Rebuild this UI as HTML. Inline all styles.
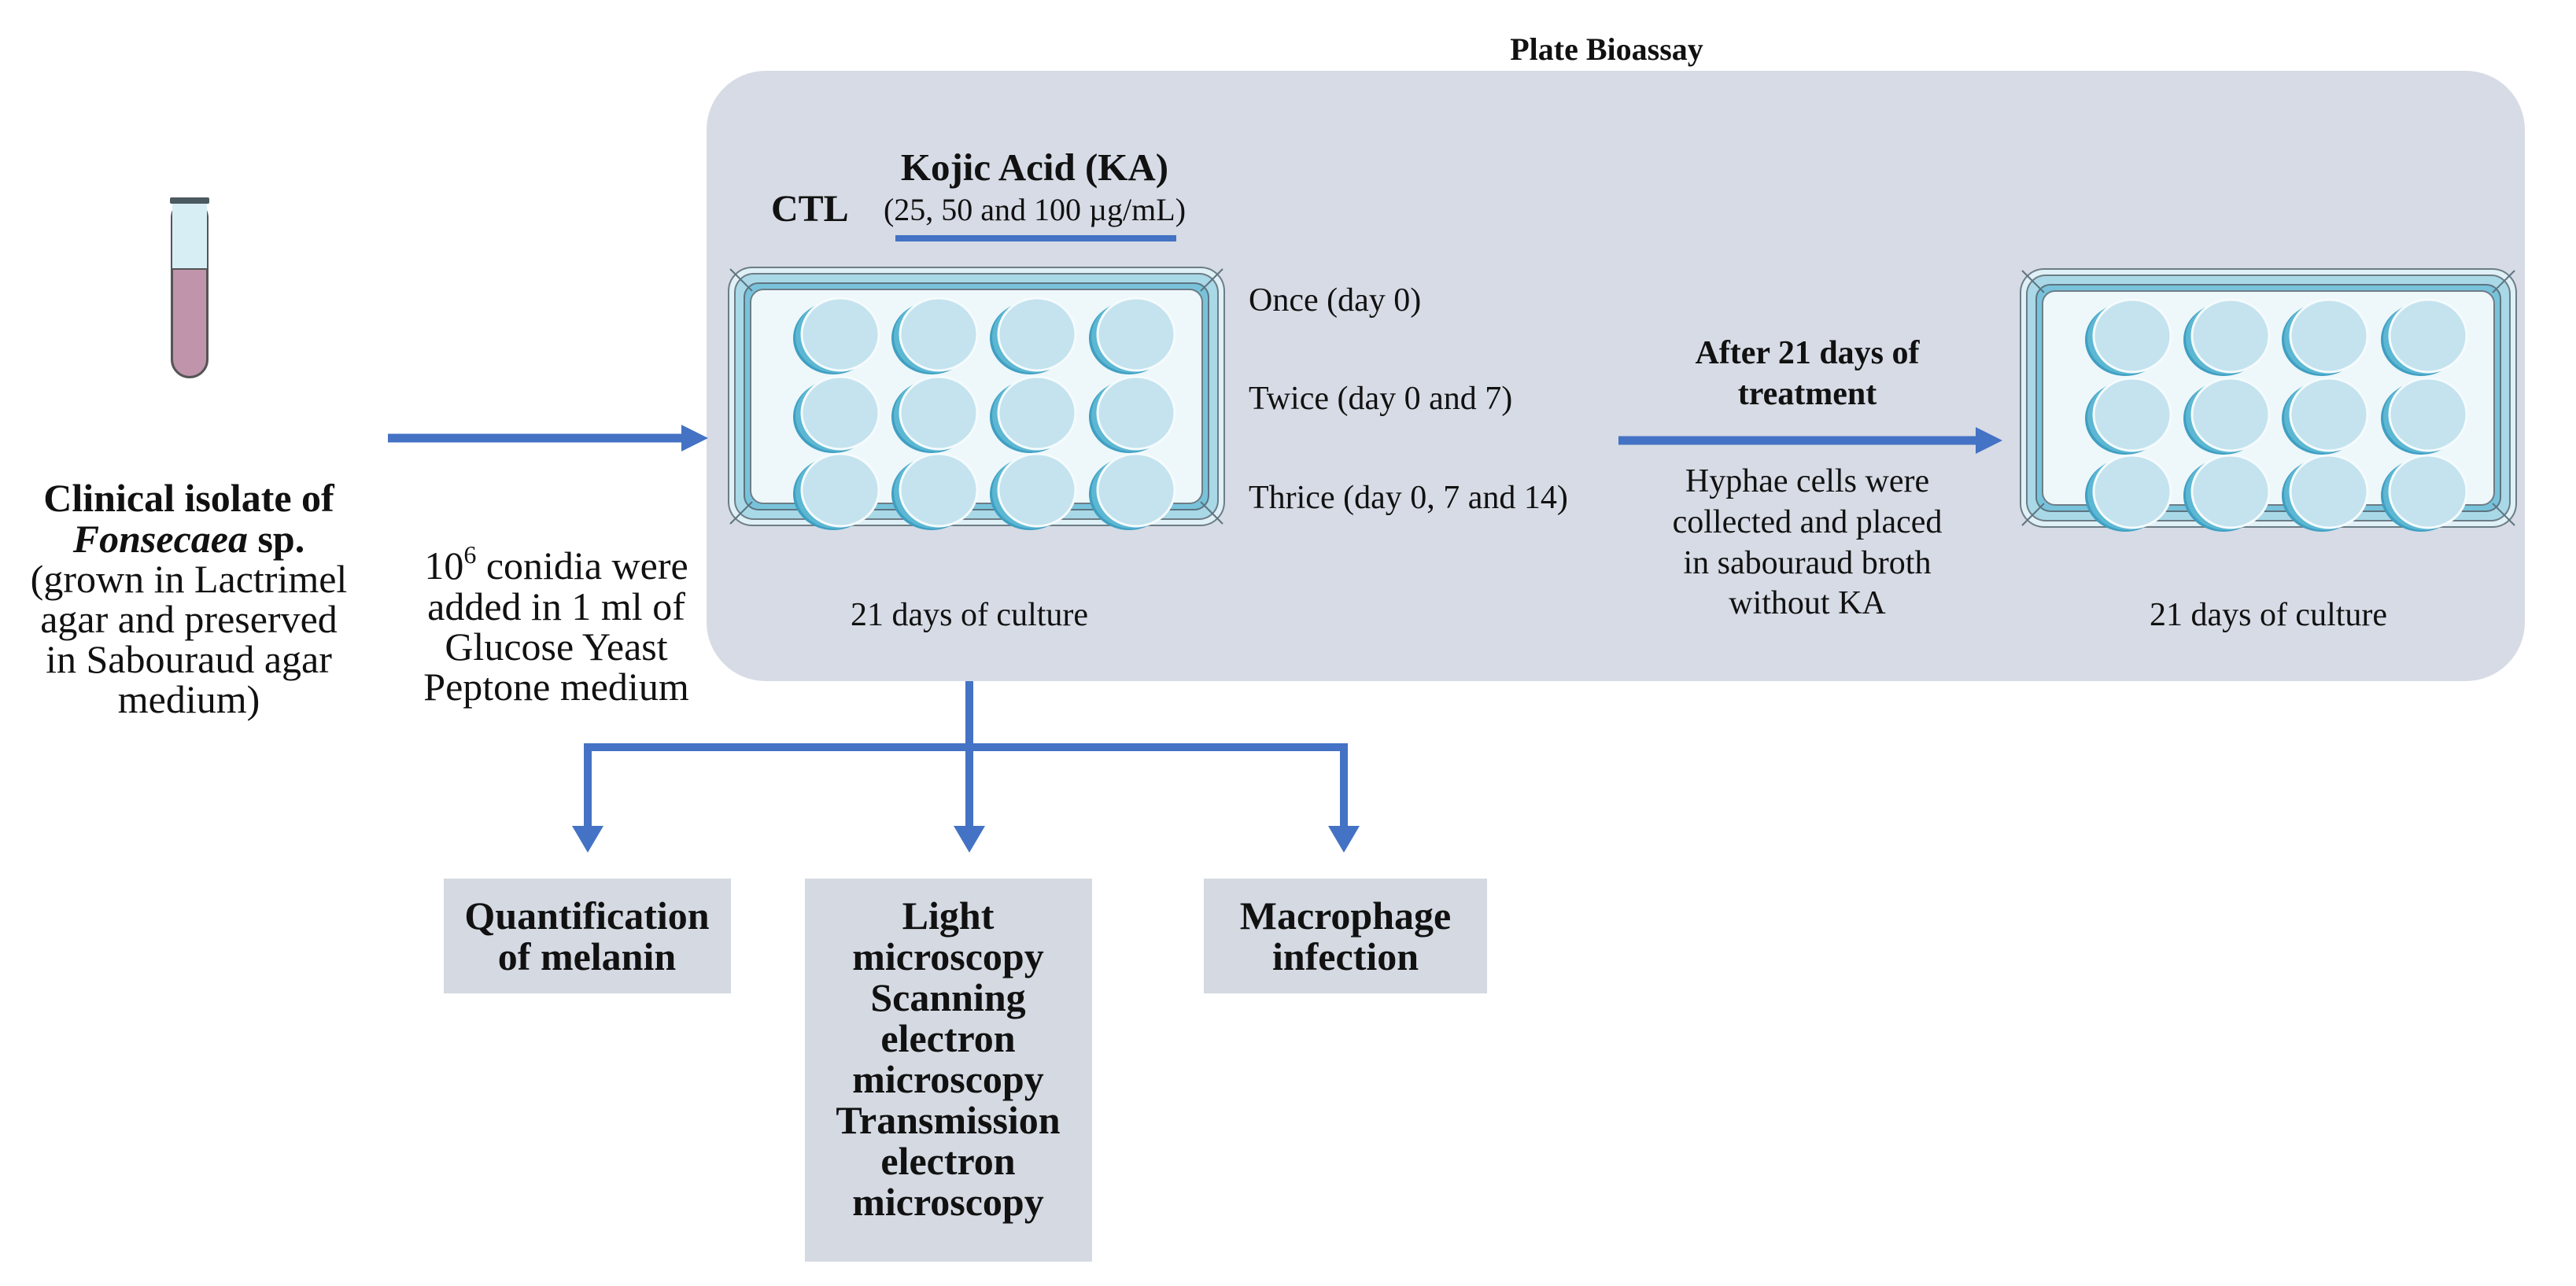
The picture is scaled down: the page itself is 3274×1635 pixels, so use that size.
<!DOCTYPE html>
<html><head><meta charset="utf-8"><style>
html,body{margin:0;padding:0;background:#fff}
svg{display:block}
text{font-family:"Liberation Serif",serif;fill:#111}
.b{font-weight:bold}
</style></head><body>
<svg width="3274" height="1635" viewBox="0 0 3274 1635" xmlns="http://www.w3.org/2000/svg">
<defs>
<g id="well">
<ellipse cx="-5" cy="4" rx="51" ry="46" fill="#3f9fc2"/>
<ellipse cx="-2" cy="2" rx="51" ry="46" fill="#5cb7d3"/>
<ellipse cx="4" cy="-1" rx="49" ry="46" fill="#c4e3ee" stroke="#f5fbfd" stroke-width="3"/>
</g>
<g id="plate">
<rect x="0" y="0" width="630" height="328" rx="30" fill="#dff0f6" stroke="#6d7d86" stroke-width="2"/>
<rect x="8" y="8" width="614" height="312" rx="24" fill="#a9d8e7" stroke="#6d7d86" stroke-width="2"/>
<rect x="20" y="20" width="590" height="288" rx="18" fill="#78c3db" stroke="#5e7480" stroke-width="2"/>
<rect x="28" y="28" width="574" height="272" rx="16" fill="#eef7fa" stroke="#6d7d86" stroke-width="2"/>
<line x1="2" y1="2" x2="30" y2="30" stroke="#5e7480" stroke-width="2"/>
<line x1="628" y1="2" x2="600" y2="30" stroke="#5e7480" stroke-width="2"/>
<line x1="2" y1="326" x2="30" y2="298" stroke="#5e7480" stroke-width="2"/>
<line x1="628" y1="326" x2="600" y2="298" stroke="#5e7480" stroke-width="2"/>
<use href="#well" x="138" y="86"/><use href="#well" x="263" y="86"/><use href="#well" x="388" y="86"/><use href="#well" x="514" y="86"/>
<use href="#well" x="138" y="186"/><use href="#well" x="263" y="186"/><use href="#well" x="388" y="186"/><use href="#well" x="514" y="186"/>
<use href="#well" x="138" y="284"/><use href="#well" x="263" y="284"/><use href="#well" x="388" y="284"/><use href="#well" x="514" y="284"/>
</g>
</defs>

<rect x="898" y="90" width="2311" height="776" rx="75" fill="#d6dbe5"/>
<text x="2042" y="76" class="b" font-size="40" text-anchor="middle">Plate Bioassay</text>

<rect x="218" y="254" width="46" height="226" rx="23" fill="#fff" stroke="#555" stroke-width="2"/>
<rect x="219" y="256" width="44" height="86" fill="#d7eef5"/>
<path d="M219 342 H263 V457 A22 22 0 0 1 219 457 Z" fill="#c094aa" stroke="#555" stroke-width="2"/>
<rect x="216" y="251" width="50" height="8" rx="2" fill="#4b5a60"/>

<g font-size="50" text-anchor="middle">
<text x="240" y="650" class="b">Clinical isolate of</text>
<text x="240" y="702" class="b"><tspan font-style="italic">Fonsecaea</tspan> sp.</text>
<text x="240" y="753">(grown in Lactrimel</text>
<text x="240" y="804">agar and preserved</text>
<text x="240" y="855">in Sabouraud agar</text>
<text x="240" y="906">medium)</text>

<text x="707" y="736">10<tspan font-size="32" dy="-20">6</tspan><tspan dy="20"> conidia were</tspan></text>
<text x="707" y="788">added in 1 ml of</text>
<text x="707" y="839">Glucose Yeast</text>
<text x="707" y="890">Peptone medium</text>
</g>

<line x1="493" y1="557" x2="870" y2="557" stroke="#4472c4" stroke-width="11"/>
<polygon points="866,540 900,557 866,574" fill="#4472c4"/>

<text x="980" y="281" class="b" font-size="48">CTL</text>
<text x="1315" y="229" class="b" font-size="49" text-anchor="middle">Kojic Acid (KA)</text>
<text x="1315" y="280" font-size="40" text-anchor="middle">(25, 50 and 100 µg/mL)</text>
<rect x="1138" y="299" width="357" height="8" fill="#4472c4"/>
<use href="#plate" x="926" y="340"/>
<text x="1232" y="795" font-size="42" text-anchor="middle">21 days of culture</text>

<g font-size="42">
<text x="1587" y="395">Once (day 0)</text>
<text x="1587" y="520">Twice (day 0 and 7)</text>
<text x="1587" y="646">Thrice (day 0, 7 and 14)</text>
</g>

<line x1="2057" y1="560" x2="2515" y2="560" stroke="#4472c4" stroke-width="11"/>
<polygon points="2511,543 2545,560 2511,577" fill="#4472c4"/>
<g font-size="42" text-anchor="middle">
<text x="2297" y="462" class="b">After 21 days of</text>
<text x="2297" y="514" class="b">treatment</text>
<text x="2297" y="625">Hyphae cells were</text>
<text x="2297" y="677">collected and placed</text>
<text x="2297" y="729">in sabouraud broth</text>
<text x="2297" y="780">without KA</text>
</g>

<use href="#plate" x="2568" y="342"/>
<text x="2883" y="795" font-size="42" text-anchor="middle">21 days of culture</text>

<g stroke="#4472c4" stroke-width="10" fill="none">
<line x1="1232" y1="866" x2="1232" y2="1050"/>
<polyline points="747,1060 747,950 1708,950 1708,1060"/>
</g>
<g fill="#4472c4">
<polygon points="727,1050 767,1050 747,1084"/>
<polygon points="1212,1050 1252,1050 1232,1084"/>
<polygon points="1688,1050 1728,1050 1708,1084"/>
</g>

<rect x="564" y="1117" width="365" height="146" fill="#d4d9e2"/>
<rect x="1023" y="1117" width="365" height="487" fill="#d4d9e2"/>
<rect x="1530" y="1117" width="360" height="146" fill="#d4d9e2"/>
<g font-size="50" class="b" text-anchor="middle">
<text x="746" y="1181">Quantification</text>
<text x="746" y="1233">of melanin</text>
<text x="1205" y="1181">Light</text>
<text x="1205" y="1233">microscopy</text>
<text x="1205" y="1285">Scanning</text>
<text x="1205" y="1337">electron</text>
<text x="1205" y="1389">microscopy</text>
<text x="1205" y="1441">Transmission</text>
<text x="1205" y="1493">electron</text>
<text x="1205" y="1545">microscopy</text>
<text x="1710" y="1181">Macrophage</text>
<text x="1710" y="1233">infection</text>
</g>
</svg>
</body></html>
